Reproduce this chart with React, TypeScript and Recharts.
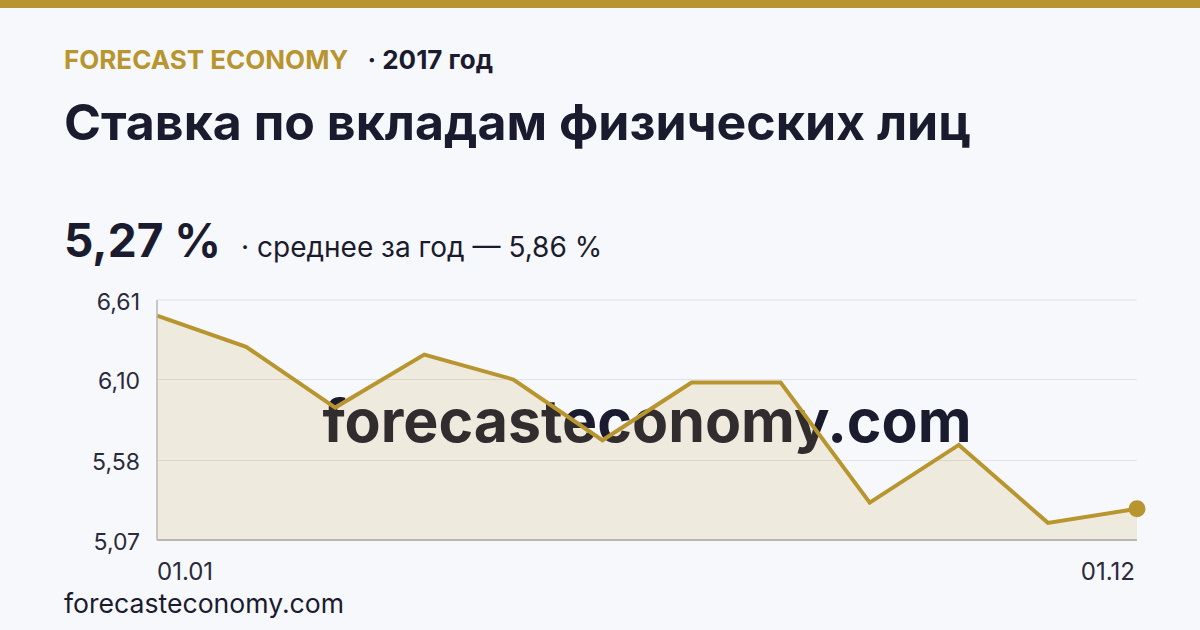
import React from "react";
import { AreaChart, Area, XAxis, YAxis, CartesianGrid } from "recharts";

const months = ["01.01", "01.02", "01.03", "01.04", "01.05", "01.06", "01.07", "01.08", "01.09", "01.10", "01.11", "01.12"];
const rates = [6.51, 6.31, 5.92, 6.26, 6.1, 5.71, 6.08, 6.08, 5.31, 5.68, 5.18, 5.27];
const yTicks = [5.07, 5.58, 6.1, 6.61];
const xTicks = ["01.01", "01.12"];

const data = months.map((m, i) => ({ month: m, rate: rates[i] }));

const GOLD = "#b8952e";
const DARK = "#1b1b2f";
const BG = "#f7f8fc";
const FONT = "Inter, 'Noto Sans', sans-serif";

const fmt = (v: number) => v.toFixed(2).replace(".", ",");

const YTick = (props: any) => {
  const { x, y, payload } = props;
  return (
    <text x={x - 1} y={y} dy="0.42em" textAnchor="end" fontSize={23} fill="#2a2a3c" fontFamily={FONT}>
      {fmt(payload.value)}
    </text>
  );
};

const XTick = (props: any) => {
  const { x, y, payload } = props;
  const first = payload.value === months[0];
  return (
    <text x={first ? x : x - 2} y={y} dy={32} textAnchor={first ? "start" : "end"} fontSize={24} fill="#2a2a3c" fontFamily={FONT}>
      {payload.value}
    </text>
  );
};

const LastDot = (props: any) => {
  const { cx, cy, index } = props;
  if (index !== rates.length - 1) return <g key={index} />;
  return <circle key={index} cx={cx} cy={cy} r={8.5} fill={GOLD} />;
};

export default function App() {
  return (
    <div
      style={{
        position: "absolute",
        left: 0,
        top: 0,
        width: 1200,
        height: 630,
        background: BG,
        overflow: "hidden",
        fontFamily: FONT,
        color: DARK,
      }}
    >
      <div style={{ position: "absolute", left: 0, top: 0, width: 1200, height: 8, background: GOLD }} />
      <div style={{ position: "absolute", left: 64, top: 47, fontSize: 26, lineHeight: "26px", fontWeight: 700, whiteSpace: "nowrap" }}>
        <span style={{ color: GOLD }}>FORECAST ECONOMY</span>
        <span style={{ color: DARK, marginLeft: 19 }}>· 2017 год</span>
      </div>
      <div style={{ position: "absolute", left: 64, top: 97, fontSize: 50, lineHeight: "50px", fontWeight: 700, whiteSpace: "nowrap" }}>
        Ставка по вкладам физических лиц
      </div>
      <div style={{ position: "absolute", left: 64, top: 217, whiteSpace: "nowrap" }}>
        <span style={{ fontSize: 46, lineHeight: "46px", fontWeight: 700 }}>5,27 %</span>
        <span style={{ fontSize: 28, lineHeight: "46px", fontWeight: 400, marginLeft: 20 }}>· среднее за год — 5,86 %</span>
      </div>
      <div style={{ position: "absolute", left: 64, top: 590, fontSize: 26.6, lineHeight: "26px", whiteSpace: "nowrap" }}>
        forecasteconomy.com
      </div>
      <div
        style={{
          position: "absolute",
          left: 157,
          width: 980,
          top: 391,
          textAlign: "center",
          fontSize: 59,
          lineHeight: "59px",
          fontWeight: 700,
          color: DARK,
          whiteSpace: "nowrap",
        }}
      >
        forecasteconomy.com
      </div>
      <div style={{ position: "absolute", left: 0, top: 0 }}>
        <AreaChart width={1200} height={630} data={data} margin={{ top: 300, right: 63, bottom: 60, left: 64 }}>
          <CartesianGrid vertical={false} stroke="#e2e2e8" strokeWidth={1} />
          <XAxis
            dataKey="month"
            ticks={xTicks}
            interval={0}
            tick={<XTick />}
            tickLine={false}
            axisLine={{ stroke: "#b9b7b1", strokeWidth: 2 }}
            height={30}
          />
          <YAxis
            domain={[5.07, 6.61]}
            ticks={yTicks}
            type="number"
            interval={0}
            tick={<YTick />}
            tickLine={false}
            tickMargin={10}
            axisLine={{ stroke: "#b9b7b1", strokeWidth: 1.5 }}
            width={93}
          />
          <Area
            type="linear"
            dataKey="rate"
            stroke={GOLD}
            strokeWidth={4}
            fill={GOLD}
            fillOpacity={0.14}
            dot={<LastDot />}
            activeDot={false}
            isAnimationActive={false}
          />
        </AreaChart>
      </div>
    </div>
  );
}
